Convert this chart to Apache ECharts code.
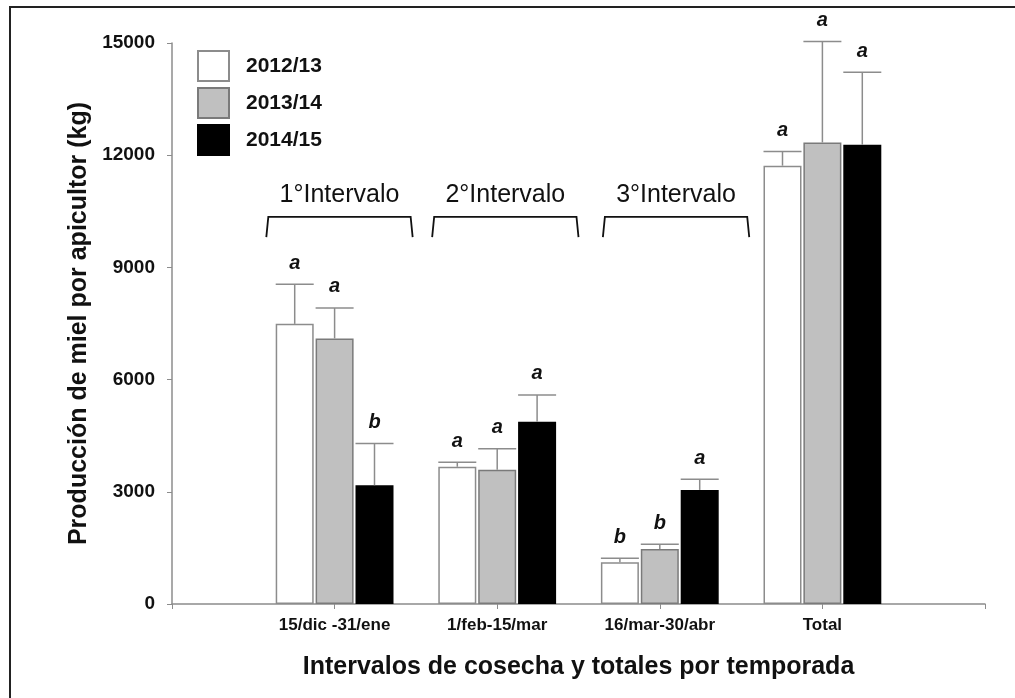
<!DOCTYPE html>
<html>
<head>
  <meta charset="UTF-8">
  <title>Producción de miel</title>
  <script src="https://cdn.jsdelivr.net/npm/echarts@6/dist/echarts.min.js"></script>
</head>
<body style="margin:0;background:#fff;">
  <div id="chart" style="width:1015px;height:698px;"></div>
  <script type="text/javascript">
    // categorias del eje x (vacias en los extremos para dejar el hueco)
    const categories = ['', '15/dic -31/ene', '1/feb-15/mar', '16/mar-30/abr', 'Total', ''];
    const years = ['2012/13', '2013/14', '2014/15'];

    // medias (kg)
    const mean2012 = ['-', 7490, 3670, 1115, 11720, '-'];
    const mean2013 = ['-', 7100, 3590, 1470, 12340, '-'];
    const mean2014 = ['-', 3175, 4875, 3050, 12280, '-'];
    // limite superior de la barra de error
    const upper2012 = [null, 8550, 3790, 1220, 12100, null];
    const upper2013 = [null, 7915, 4150, 1595, 15040, null];
    const upper2014 = [null, 4290, 5590, 3335, 14220, null];
    // letras de significancia
    const letters2012 = ['', 'a', 'a', 'b', 'a', ''];
    const letters2013 = ['', 'a', 'a', 'b', 'a', ''];
    const letters2014 = ['', 'b', 'a', 'a', 'a', ''];

    // llaves de intervalos (posicion en unidades de categoria)
    const bracketNames = ['1°Intervalo', '2°Intervalo', '3°Intervalo'];
    const bracketPos = [1.03, 2.05, 3.1];
    const bracketTop = 10350;
    const bracketBottom = 9810;

    const font = 'Liberation Sans, Arial, sans-serif';
    const barW = 38;
    const gapW = barW * 0.05;
    const offsets = [-(barW + gapW), 0, barW + gapW];

    const fills = ['#ffffff', '#c0c0c0', '#000000'];
    const borders = ['#8c8c8c', '#7a7a7a', '#000000'];
    const means = [mean2012, mean2013, mean2014];
    const uppers = [upper2012, upper2013, upper2014];
    const letters = [letters2012, letters2013, letters2014];

    const chart = echarts.init(document.getElementById('chart'));

    const series = [];
    years.forEach((y, k) => {
      series.push({
        name: y,
        type: 'bar',
        barWidth: barW,
        barGap: '5%',
        itemStyle: { color: fills[k], borderColor: borders[k], borderWidth: 1.5 },
        data: means[k],
        z: 2
      });
    });
    years.forEach((y, k) => {
      const errData = [];
      for (let i = 0; i < categories.length; i++) {
        if (uppers[k][i] == null) continue;
        errData.push([i, means[k][i], uppers[k][i], letters[k][i]]);
      }
      series.push({
        type: 'custom',
        name: 'err' + k,
        silent: true,
        z: 3,
        renderItem: (params, api) => {
          const base = api.coord([api.value(0), api.value(1)]);
          const top = api.coord([api.value(0), api.value(2)]);
          const x = base[0] + offsets[k];
          const letter = errData[params.dataIndex][3];
          return {
            type: 'group',
            children: [
              { type: 'line', shape: { x1: x, y1: base[1], x2: x, y2: top[1] },
                style: { stroke: '#8c8c8c', lineWidth: 1.5 } },
              { type: 'line', shape: { x1: x - barW / 2, y1: top[1], x2: x + barW / 2, y2: top[1] },
                style: { stroke: '#8c8c8c', lineWidth: 1.5 } },
              { type: 'text', x: x, y: top[1] - 11,
                style: { text: letter, fontFamily: font, fontSize: 20, fontWeight: 'bold',
                  fontStyle: 'italic', fill: '#111', align: 'center', verticalAlign: 'bottom' } }
            ]
          };
        },
        data: errData
      });
    });

    series.push({
      type: 'custom',
      name: 'llaves',
      silent: true,
      renderItem: (params, api) => {
        const p = bracketPos[params.dataIndex];
        const i0 = Math.floor(p);
        const step = api.size([1, 0])[0];
        const c = api.coord([i0, bracketTop]);
        const yb = api.coord([i0, bracketBottom])[1];
        const half = step * 0.45;
        const cx = c[0] + (p - i0) * step;
        return {
          type: 'group',
          children: [
            { type: 'polyline',
              shape: { points: [[cx - half, yb], [cx - half + 2, c[1]], [cx + half - 2, c[1]], [cx + half, yb]] },
              style: { stroke: '#111', lineWidth: 1.8, fill: null } },
            { type: 'text', x: cx, y: c[1] - 9,
              style: { text: bracketNames[params.dataIndex], fontFamily: font, fontSize: 25, fill: '#111',
                align: 'center', verticalAlign: 'bottom' } }
          ]
        };
      },
      data: bracketPos.map(p => [Math.floor(p), bracketTop])
    });

    const option = {
      animation: false,
      backgroundColor: '#fff',
      graphic: [{
        type: 'rect',
        shape: { x: 10, y: 7, width: 1100, height: 800 },
        style: { fill: null, stroke: '#222', lineWidth: 2 }
      }],
      grid: { left: 172, right: 30, top: 43, bottom: 94 },
      legend: {
        data: years,
        orient: 'vertical',
        left: 192,
        top: 45,
        icon: 'rect',
        itemWidth: 31,
        itemHeight: 30,
        itemGap: 5,
        textStyle: { fontFamily: font, fontSize: 21, fontWeight: 'bold', color: '#111', padding: [0, 0, 0, 12] }
      },
      xAxis: {
        type: 'category',
        data: categories,
        boundaryGap: false,
        name: 'Intervalos de cosecha y totales por temporada',
        nameLocation: 'middle',
        nameGap: 51,
        nameTextStyle: { fontFamily: font, fontSize: 25, fontWeight: 'bold', color: '#111' },
        axisLine: { lineStyle: { color: '#8c8c8c', width: 1.5 } },
        axisTick: { show: true, length: 5, lineStyle: { color: '#8c8c8c' } },
        axisLabel: { interval: 0, margin: 13, fontFamily: font, fontSize: 17, fontWeight: 'bold', color: '#111' },
        splitLine: { show: false }
      },
      yAxis: {
        type: 'value',
        min: 0,
        max: 15000,
        interval: 3000,
        name: 'Producción de miel por apicultor (kg)',
        nameLocation: 'middle',
        nameGap: 80,
        nameTextStyle: { fontFamily: font, fontSize: 25, fontWeight: 'bold', color: '#111' },
        axisLine: { show: true, lineStyle: { color: '#8c8c8c', width: 1.5 } },
        axisTick: { show: true, length: 5, lineStyle: { color: '#8c8c8c' } },
        axisLabel: { margin: 17, fontFamily: font, fontSize: 19, fontWeight: 'bold', color: '#111',
          formatter: v => String(v) },
        splitLine: { show: false }
      },
      series: series
    };
    chart.setOption(option);
  </script>
</body>
</html>
